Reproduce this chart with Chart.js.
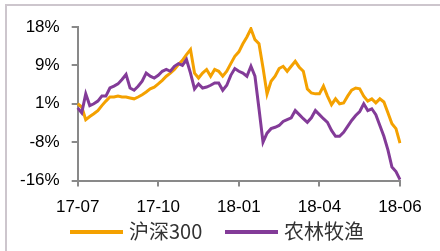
<!DOCTYPE html>
<html>
<head>
<meta charset="utf-8">
<script src="https://cdn.jsdelivr.net/npm/chart.js@4/dist/chart.umd.min.js"></script>
<style>
  html, body { margin: 0; padding: 0; background: #fff; }
  #wrap { position: relative; width: 440px; height: 251px; overflow: hidden; }
  #frame { position: absolute; left: 5px; top: 4px; width: 440px; height: 260px;
           border-left: 2px solid #cdc6cd; border-top: 2px solid #cdc6cd; }
  canvas { position: absolute; left: 0; top: 0; }
  .key { position: absolute; top: 218px; height: 26px; line-height: 26px;
         font-family: "Noto Sans CJK SC", sans-serif; font-size: 20px; color: #333; white-space: nowrap; }
  .key i { display: inline-block; width: 53px; height: 4px; vertical-align: middle; margin-right: 6px; margin-top: -3px; }
</style>
</head>
<body>
<div id="wrap">
  <div id="frame"></div>
  <canvas id="chart" width="440" height="251"></canvas>
  <div id="legend"></div>
</div>
<script>
// x labels only on the tick points, the rest are blank
const tickLabels = {0: '17-07', 20: '17-10', 40: '18-01', 60: '18-04', 80: '18-06'}

// 沪深300, % change
const hs300 = [
  1.0, 0.3, -2.5, -1.8, -1.2, -0.5, 0.6, 1.6, 2.5, 2.5,
  2.7, 2.5, 2.5, 2.3, 2.1, 2.5, 3.0, 3.6, 4.3, 4.7,
  5.4, 6.2, 7.1, 7.8, 8.6, 9.7, 10.6, 11.9, 13.0, 7.8,
  6.7, 7.8, 8.6, 7.1, 8.6, 8.2, 7.1, 8.2, 9.9, 11.5,
  12.5, 14.3, 15.8, 17.6, 15.2, 14.3, 9.0, 3.2, 6.0, 7.1,
  8.8, 9.3, 8.2, 9.3, 10.4, 9.1, 8.2, 4.3, 3.4, 3.2,
  3.2, 4.9, 2.7, 0.8, 2.1, 1.0, 1.2, 2.7, 4.0, 4.5,
  4.3, 2.7, 1.6, 2.1, 1.2, 2.1, 1.4, -1.0, -3.4, -4.5,
  -7.7
]

// 农林牧渔, % change
const nlmy = [
  0.1, -1.0, 3.2, 0.6, 1.0, 1.6, 2.7, 2.7, 4.5, 4.9,
  5.4, 6.4, 7.5, 4.5, 4.0, 4.9, 6.0, 7.8, 7.1, 6.7,
  7.3, 8.2, 8.6, 8.2, 9.3, 9.9, 9.5, 10.8, 7.8, 4.3,
  5.4, 4.5, 4.7, 5.1, 5.6, 5.6, 4.0, 5.1, 7.3, 8.8,
  8.2, 7.8, 7.1, 9.3, 7.1, -0.1, -7.5, -5.5, -4.5, -4.2,
  -3.8, -2.9, -2.5, -2.1, -0.5, -1.4, -2.3, -3.1, -2.1, -0.5,
  -1.4, -2.3, -3.1, -4.9, -6.2, -6.2, -5.3, -4.0, -2.7, -1.6,
  -0.7, 1.0, -0.5, -0.1, -1.4, -3.8, -6.2, -9.2, -13.0, -14.0,
  -15.8
]

const yTicks = [-16, -7.5, 1, 9.5, 18]
const yTickLabels = ['-16%', '-8%', '1%', '9%', '18%']

const seriesNames = ['沪深300', '农林牧渔']
const seriesColors = ['#f4a100', '#833b98']
const legendLeft = [70, 225]

const labels = hs300.map((v, i) => tickLabels[i] || '')

const axisGray = '#898989'

new Chart(document.querySelector('#chart'), {
  type: 'line',
  data: {
    labels: labels,
    datasets: [{
      label: seriesNames[0],
      data: hs300,
      borderColor: seriesColors[0],
      borderWidth: 3,
      pointRadius: 0,
      order: 2
    }, {
      label: seriesNames[1],
      data: nlmy,
      borderColor: seriesColors[1],
      borderWidth: 3,
      pointRadius: 0,
      order: 1
    }]
  },
  options: {
    responsive: false,
    animation: false,
    layout: {padding: {left: 8, right: 40, top: 27, bottom: 22}},
    plugins: {
      tooltip: {enabled: false},
      legend: {display: false}
    },
    scales: {
      x: {
        grid: {drawOnChartArea: false, drawTicks: true, tickLength: 6, color: axisGray, lineWidth: 2},
        border: {color: axisGray, width: 2},
        ticks: {
          autoSkip: false,
          maxRotation: 0,
          padding: 11,
          color: '#000',
          font: {family: '"Liberation Sans", Arial, sans-serif', size: 17},
          callback: (v, i) => tickLabels[i] ? tickLabels[i] : null
        }
      },
      y: {
        min: -16,
        max: 18,
        afterBuildTicks: axis => { axis.ticks = yTicks.map(v => ({value: v})) },
        grid: {drawOnChartArea: false, drawTicks: true, tickLength: 6, color: axisGray, lineWidth: 2},
        border: {color: axisGray, width: 2},
        ticks: {
          padding: 12,
          color: '#000',
          font: {family: '"Liberation Sans", Arial, sans-serif', size: 17},
          callback: (v, i) => yTickLabels[i]
        }
      }
    }
  }
})

// legend as plain html under the chart
const legend = document.querySelector('#legend')
seriesNames.forEach((name, i) => {
  const el = document.createElement('div')
  el.className = 'key'
  el.style.left = legendLeft[i] + 'px'
  el.innerHTML = '<i style="background:' + seriesColors[i] + '"></i>' + name
  legend.appendChild(el)
})
</script>
</body>
</html>
